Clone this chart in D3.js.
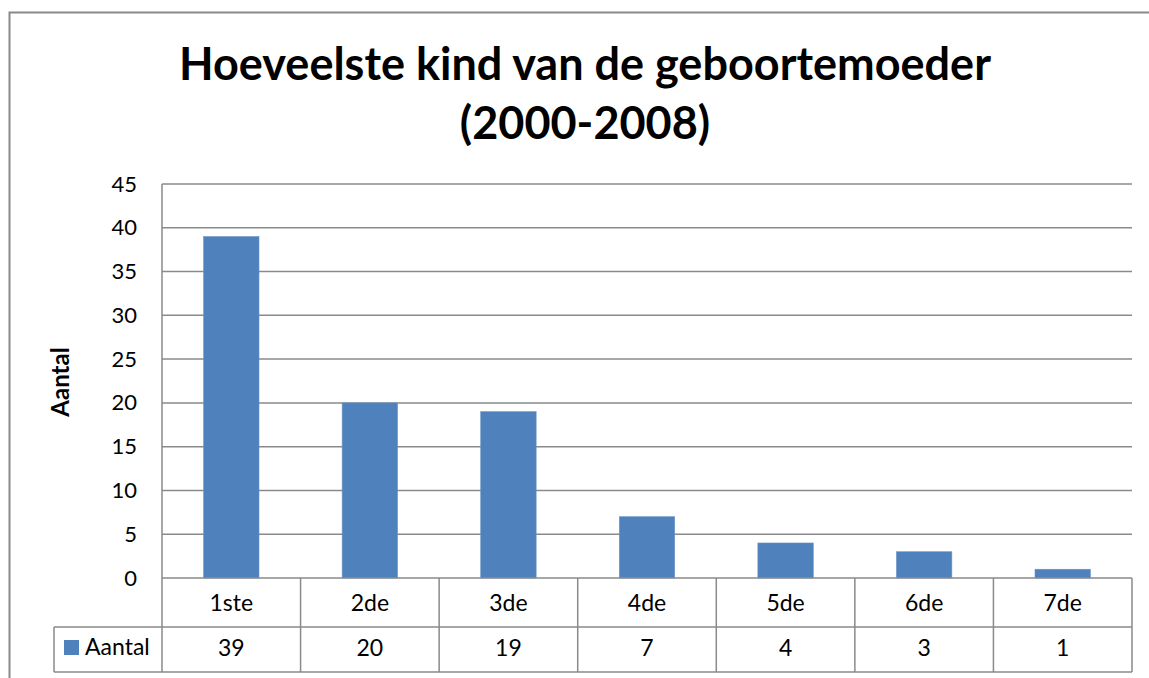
<!DOCTYPE html>
<html>
<head>
<meta charset="utf-8">
<script src="https://cdn.jsdelivr.net/npm/d3@7"></script>
<style>
  body { margin: 0; background: #fff; }
  text { font-family: Lato, "Open Sans", sans-serif; fill: #000; }
</style>
</head>
<body>
<script>
// data
var categories = ["1ste", "2de", "3de", "4de", "5de", "6de", "7de"];
var values = [39, 20, 19, 7, 4, 3, 1];
var yTicks = [0, 5, 10, 15, 20, 25, 30, 35, 40, 45];
var seriesName = "Aantal";
var titleLines = ["Hoeveelste kind van de geboortemoeder", "(2000-2008)"];

var width = 1149, height = 678;
var plotLeft = 162, plotRight = 1132, plotTop = 184, plotBottom = 578;
var row1 = 627, row2 = 672, legendLeft = 54;
var gridColor = "#8a8a8a", barColor = "#4f81bd";

var svg = d3.select("body").append("svg")
    .attr("width", width)
    .attr("height", height);

// chart border (runs off the right and bottom edges)
svg.append("path")
    .attr("d", "M9.5," + (height + 5) + "V12.5H" + (width + 5))
    .attr("fill", "none")
    .attr("stroke", gridColor)
    .attr("stroke-width", 2);

var x = d3.scaleBand()
    .domain(categories)
    .range([plotLeft, plotRight])
    .paddingInner(0.6)
    .paddingOuter(0.3);

var xb = d3.scaleBand().domain(categories).range([plotLeft, plotRight]);

var y = d3.scaleLinear()
    .domain([0, 45])
    .range([plotBottom, plotTop]);

// gridlines
svg.append("g")
  .selectAll("line")
  .data(yTicks.filter(function(d) { return d > 0; }))
  .enter().append("line")
    .attr("x1", plotLeft).attr("x2", plotRight)
    .attr("y1", function(d) { return y(d); })
    .attr("y2", function(d) { return y(d); })
    .attr("stroke", gridColor)
    .attr("stroke-width", 1.5);

// bars
svg.append("g")
  .selectAll("rect")
  .data(values)
  .enter().append("rect")
    .attr("x", function(d, i) { return x(categories[i]); })
    .attr("width", x.bandwidth())
    .attr("y", function(d) { return y(d); })
    .attr("height", function(d) { return y(0) - y(d); })
    .attr("fill", barColor)
    .attr("stroke", "#6a95c8")
    .attr("stroke-width", 0.6);

// y axis labels
var yAxis = d3.axisLeft(y).tickValues(yTicks).tickSize(0).tickPadding(25);
var ya = svg.append("g")
    .attr("transform", "translate(" + plotLeft + ",0)")
    .call(yAxis);
ya.select(".domain").remove();
ya.selectAll("text")
    .style("font-family", "Lato, sans-serif")
    .style("font-size", "22px")
    .attr("fill", "#000");

// axis title
svg.append("text")
    .attr("transform", "translate(69,382) rotate(-90)")
    .attr("text-anchor", "middle")
    .style("font-size", "24px")
    .style("font-weight", "bold")
    .text(seriesName);

// title
svg.selectAll(".title")
  .data(titleLines)
  .enter().append("text")
    .attr("class", "title")
    .attr("x", 585)
    .attr("y", function(d, i) { return 80 + i * 59; })
    .attr("text-anchor", "middle")
    .style("font-size", "45px")
    .style("font-weight", "bold")
    .text(function(d) { return d; });

// data table
var table = svg.append("g")
    .attr("fill", "none")
    .attr("stroke", gridColor)
    .attr("stroke-width", 1.5);

table.append("line").attr("x1", plotLeft).attr("x2", plotRight).attr("y1", plotBottom).attr("y2", plotBottom);
table.append("line").attr("x1", legendLeft).attr("x2", plotRight).attr("y1", row1).attr("y2", row1);
table.append("line").attr("x1", legendLeft).attr("x2", plotRight).attr("y1", row2).attr("y2", row2);
table.append("line").attr("x1", legendLeft).attr("x2", legendLeft).attr("y1", row1).attr("y2", row2);
table.append("line").attr("x1", plotLeft).attr("x2", plotLeft).attr("y1", plotTop).attr("y2", row2);
table.selectAll(".sep")
  .data(categories)
  .enter().append("line")
    .attr("class", "sep")
    .attr("x1", function(d) { return xb(d) + xb.bandwidth(); })
    .attr("x2", function(d) { return xb(d) + xb.bandwidth(); })
    .attr("y1", plotBottom)
    .attr("y2", row2);

svg.append("g")
  .selectAll("text")
  .data(categories)
  .enter().append("text")
    .attr("x", function(d) { return xb(d) + xb.bandwidth() / 2; })
    .attr("y", 611)
    .attr("text-anchor", "middle")
    .style("font-size", "23px")
    .text(function(d) { return d; });

svg.append("g")
  .selectAll("text")
  .data(values)
  .enter().append("text")
    .attr("x", function(d, i) { return xb(categories[i]) + xb.bandwidth() / 2; })
    .attr("y", 656)
    .attr("text-anchor", "middle")
    .style("font-size", "23px")
    .text(function(d) { return d; });

// legend key in the table
svg.append("rect")
    .attr("x", 64).attr("y", 640)
    .attr("width", 15).attr("height", 15)
    .attr("fill", barColor);
svg.append("text")
    .attr("x", 85)
    .attr("y", 655)
    .style("font-size", "23px")
    .text(seriesName);
</script>
</body>
</html>
